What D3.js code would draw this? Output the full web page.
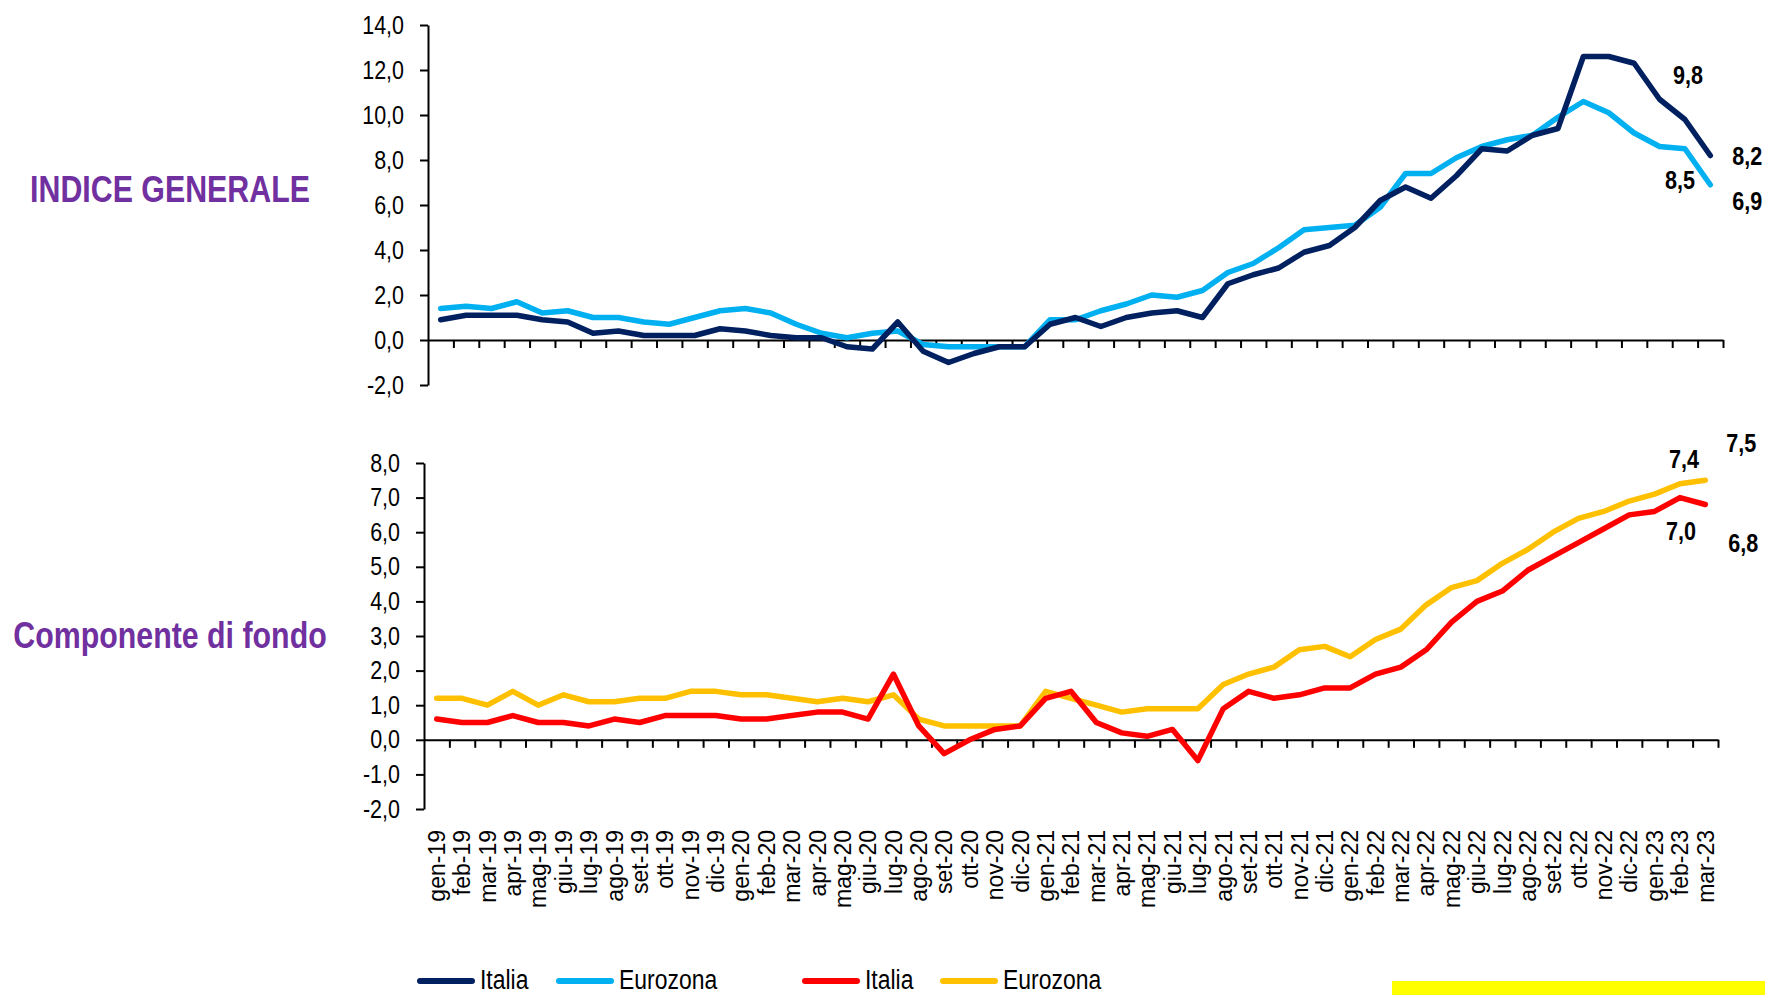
<!DOCTYPE html>
<html>
<head>
<meta charset="utf-8">
<script src="https://cdn.jsdelivr.net/npm/d3@7"></script>
<style>
  body { margin: 0; background: #ffffff; }
  svg { display: block; }
  text { font-family: "Liberation Sans", Arial, sans-serif; }
</style>
</head>
<body>
<div id="chart"></div>
<script>
var months = ["gen-19","feb-19","mar-19","apr-19","mag-19","giu-19","lug-19","ago-19","set-19","ott-19","nov-19","dic-19",
  "gen-20","feb-20","mar-20","apr-20","mag-20","giu-20","lug-20","ago-20","set-20","ott-20","nov-20","dic-20",
  "gen-21","feb-21","mar-21","apr-21","mag-21","giu-21","lug-21","ago-21","set-21","ott-21","nov-21","dic-21",
  "gen-22","feb-22","mar-22","apr-22","mag-22","giu-22","lug-22","ago-22","set-22","ott-22","nov-22","dic-22",
  "gen-23","feb-23","mar-23"];

// indice generale
var italia_gen = [0.9,1.1,1.1,1.1,0.9,0.8,0.3,0.4,0.2,0.2,0.2,0.5,
  0.4,0.2,0.1,0.1,-0.3,-0.4,0.8,-0.5,-1.0,-0.6,-0.3,-0.3,
  0.7,1.0,0.6,1.0,1.2,1.3,1.0,2.5,2.9,3.2,3.9,4.2,
  5.0,6.2,6.8,6.3,7.3,8.5,8.4,9.1,9.4,12.6,12.6,12.3,
  10.7,9.8,8.2];
var eurozona_gen = [1.4,1.5,1.4,1.7,1.2,1.3,1.0,1.0,0.8,0.7,1.0,1.3,
  1.4,1.2,0.7,0.3,0.1,0.3,0.4,-0.2,-0.3,-0.3,-0.3,-0.3,
  0.9,0.9,1.3,1.6,2.0,1.9,2.2,3.0,3.4,4.1,4.9,5.0,
  5.1,5.9,7.4,7.4,8.1,8.6,8.9,9.1,9.9,10.6,10.1,9.2,
  8.6,8.5,6.9];

// componente di fondo
var italia_fondo = [0.6,0.5,0.5,0.7,0.5,0.5,0.4,0.6,0.5,0.7,0.7,0.7,
  0.6,0.6,0.7,0.8,0.8,0.6,1.9,0.4,-0.4,0.0,0.3,0.4,
  1.2,1.4,0.5,0.2,0.1,0.3,-0.6,0.9,1.4,1.2,1.3,1.5,
  1.5,1.9,2.1,2.6,3.4,4.0,4.3,4.9,5.3,5.7,6.1,6.5,
  6.6,7.0,6.8];
var eurozona_fondo = [1.2,1.2,1.0,1.4,1.0,1.3,1.1,1.1,1.2,1.2,1.4,1.4,
  1.3,1.3,1.2,1.1,1.2,1.1,1.3,0.6,0.4,0.4,0.4,0.4,
  1.4,1.2,1.0,0.8,0.9,0.9,0.9,1.6,1.9,2.1,2.6,2.7,
  2.4,2.9,3.2,3.9,4.4,4.6,5.1,5.5,6.0,6.4,6.6,6.9,
  7.1,7.4,7.5];

var ticks_gen = [-2,0,2,4,6,8,10,12,14];
var ticks_fondo = [-2,-1,0,1,2,3,4,5,6,7,8];

var legend_labels = ["Italia","Eurozona","Italia","Eurozona"];

var colors = { italia_gen: "#002060", eurozona_gen: "#00B0F0", italia_fondo: "#FF0000", eurozona_fondo: "#FFC000" };

var fmt = function(d) { return d.toFixed(1).replace(".", ","); };

// no narrow font installed, so squeeze the glyphs horizontally
function squeeze(sel, k) {
  sel.each(function() {
    var t = d3.select(this);
    var x = +t.attr("x") || 0, y = +t.attr("y") || 0;
    t.attr("x", 0).attr("y", 0)
      .attr("transform", `translate(${x}, ${y}) scale(${k}, 1)`);
  });
}

var svg = d3.select("#chart").append("svg")
  .attr("width", 1765)
  .attr("height", 995);

function panel(cfg) {
  var x = d3.scaleBand().domain(months).range([cfg.left, cfg.right]);
  var y = d3.scaleLinear().domain([cfg.ticks[0], cfg.ticks[cfg.ticks.length - 1]]).range([cfg.bottom, cfg.top]);
  var g = svg.append("g");

  // y axis
  var y_axis = d3.axisLeft(y).tickValues(cfg.ticks).tickSize(8).tickSizeOuter(0).tickFormat(fmt);
  var ya = g.append("g")
    .attr("transform", `translate(${cfg.left}, 0)`)
    .call(y_axis);
  ya.selectAll("path, line").attr("stroke", "#000").attr("stroke-width", 2);
  var yt = ya.selectAll("text")
    .attr("x", -24)
    .attr("fill", "#000")
    .style("font-family", "'Liberation Sans', Arial, sans-serif")
    .style("font-size", "25px");
  squeeze(yt, 0.86);

  // x axis on zero line, ticks between months
  var edge = d3.scaleLinear().domain([0, months.length]).range([cfg.left, cfg.right]);
  var x_axis = d3.axisBottom(edge).tickValues(d3.range(1, months.length + 1)).tickSize(8).tickSizeOuter(0).tickFormat("");
  var xa = g.append("g")
    .attr("transform", `translate(0, ${y(0)})`)
    .call(x_axis);
  xa.selectAll("path, line").attr("stroke", "#000").attr("stroke-width", 2);

  var line = d3.line()
    .x(function(d, i) { return x(months[i]) + x.bandwidth() / 2; })
    .y(function(d) { return y(d); });

  cfg.series.forEach(function(s) {
    g.append("path")
      .datum(s.values)
      .attr("fill", "none")
      .attr("stroke", s.color)
      .attr("stroke-width", 5.5)
      .attr("stroke-linejoin", "round")
      .attr("stroke-linecap", "round")
      .attr("d", line);
  });

  // value labels on last two months
  cfg.notes.forEach(function(n) {
    var v = n.values[n.i];
    var t = g.append("text")
      .attr("x", x(months[n.i]) + x.bandwidth() / 2 + n.dx)
      .attr("y", y(v) + n.dy)
      .attr("dy", "0.36em")
      .attr("text-anchor", "middle")
      .style("font-size", "26px")
      .style("font-weight", "bold")
      .text(fmt(v));
    squeeze(t, 0.83);
  });

  // title on the left
  var title = svg.append("text")
    .attr("x", 170)
    .attr("y", cfg.title_y)
    .attr("text-anchor", "middle")
    .attr("fill", "#7030A0")
    .style("font-size", "37px")
    .style("font-weight", "bold")
    .text(cfg.title);
  squeeze(title, 0.82);

  return x;
}

panel({
  left: 428, right: 1723, top: 25, bottom: 385,
  ticks: ticks_gen, title: "INDICE GENERALE", title_y: 202,
  series: [
    { values: eurozona_gen, color: colors.eurozona_gen },
    { values: italia_gen, color: colors.italia_gen }
  ],
  notes: [
    { values: italia_gen, i: 49, dx: 3, dy: -45 },
    { values: italia_gen, i: 50, dx: 37, dy: 0 },
    { values: eurozona_gen, i: 49, dx: -5, dy: 31 },
    { values: eurozona_gen, i: 50, dx: 37, dy: 16 }
  ]
});

var x_fondo = panel({
  left: 424, right: 1718, top: 463, bottom: 809,
  ticks: ticks_fondo, title: "Componente di fondo", title_y: 648,
  series: [
    { values: eurozona_fondo, color: colors.eurozona_fondo },
    { values: italia_fondo, color: colors.italia_fondo }
  ],
  notes: [
    { values: eurozona_fondo, i: 49, dx: 4, dy: -25 },
    { values: eurozona_fondo, i: 50, dx: 36, dy: -38 },
    { values: italia_fondo, i: 49, dx: 1, dy: 33 },
    { values: italia_fondo, i: 50, dx: 38, dy: 38 }
  ]
});

// month labels under the lower panel
svg.append("g").selectAll("text")
  .data(months)
  .enter().append("text")
  .attr("transform", function(d) {
    return `translate(${x_fondo(d) + x_fondo.bandwidth() / 2}, 830) rotate(-90)`;
  })
  .attr("dy", "0.36em")
  .attr("text-anchor", "end")
  .style("font-size", "23px")
  .text(function(d) { return d; });

// legend
var legend_items = [
  { label: legend_labels[0], color: colors.italia_gen, x: 417 },
  { label: legend_labels[1], color: colors.eurozona_gen, x: 556 },
  { label: legend_labels[2], color: colors.italia_fondo, x: 802 },
  { label: legend_labels[3], color: colors.eurozona_fondo, x: 940 }
];
var legend = svg.append("g");
legend_items.forEach(function(d) {
  legend.append("line")
    .attr("x1", d.x + 3).attr("x2", d.x + 55)
    .attr("y1", 981).attr("y2", 981)
    .attr("stroke", d.color)
    .attr("stroke-width", 6)
    .attr("stroke-linecap", "round");
  var t = legend.append("text")
    .attr("x", d.x + 63)
    .attr("y", 989)
    .style("font-size", "27px")
    .text(d.label);
  squeeze(t, 0.85);
});

// yellow strip bottom right
svg.append("rect")
  .attr("x", 1392).attr("y", 981)
  .attr("width", 373).attr("height", 14)
  .attr("fill", "#FFFF00");
</script>
</body>
</html>
